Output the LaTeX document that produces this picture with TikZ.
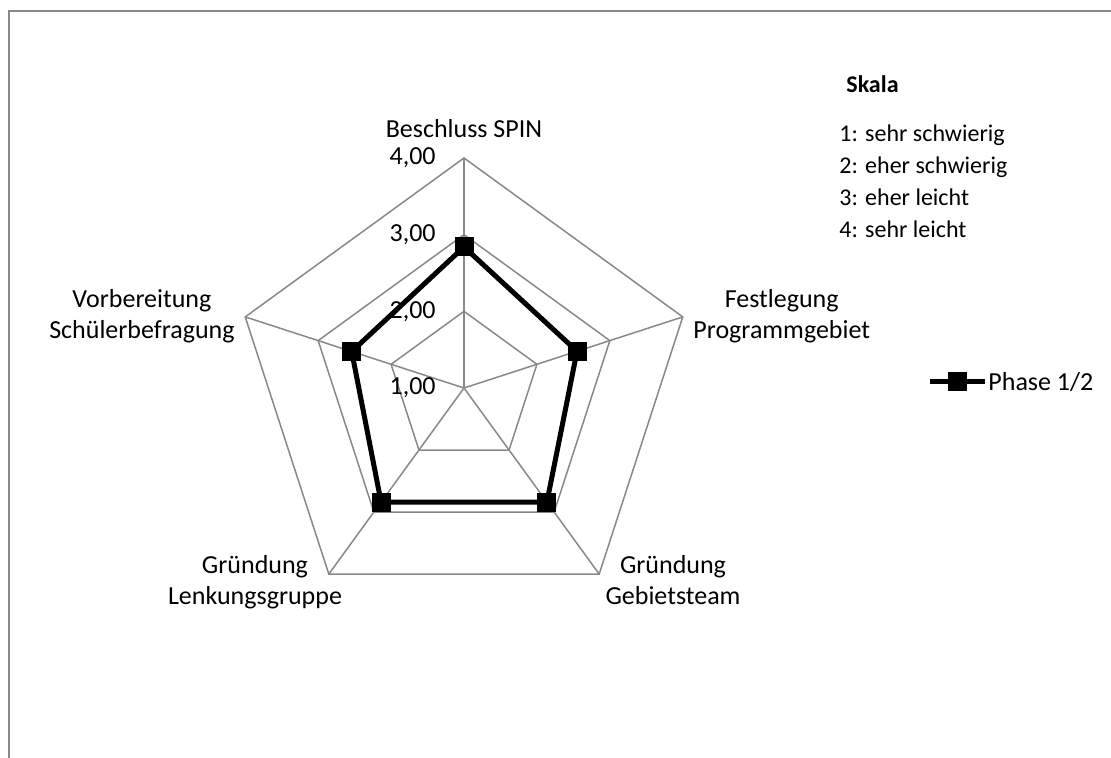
\documentclass[tikz,border=0pt]{standalone}
\usepackage{fontspec}
\setmainfont{Carlito}
\usetikzlibrary{positioning}

\definecolor{gridgray}{HTML}{888888}

\tikzset{
  gridline/.style={draw=gridgray, line width=0.75pt},
  dataline/.style={draw=black, line width=2.5pt, line join=miter},
  datamark/.style={rectangle, fill=black, inner sep=0pt, minimum size=9.5pt},
  axislabel/.style={inner sep=0pt, align=center},
  ticklabel/.style={inner sep=0pt, anchor=east},
  scaletext/.style={inner sep=0pt, anchor=base west, font=\fontsize{12}{14}\selectfont},
}

\begin{document}
\begin{tikzpicture}[x=0.5pt, y=0.5pt, font=\fontsize{13}{15.5}\selectfont]
    \useasboundingbox (-464,-370) rectangle (647,388);

    % Frame
    \draw[gridgray, line width=1.25pt] (-455,-370) -- (-455,377) -- (647,377);

    % Spokes of the radar grid
    \coordinate (o) at (0,0);
    \foreach \i in {0,...,4} {
        \coordinate (g\i) at ({90-72*\i}:230);
        \draw[gridline] (o) -- (g\i);
    }

    % Pentagons for 2,00 3,00 4,00
    \foreach \l in {2,3,4} {
        \pgfmathsetmacro\rad{(\l-1)*76.67}
        \draw[gridline] (90:\rad) -- (18:\rad) -- (-54:\rad) -- (-126:\rad) -- (162:\rad) -- cycle;
    }

    % Tick labels
    \foreach \v/\r in {1/0, 2/76.67, 3/153.33, 4/230}
        \node[ticklabel] (t\v) at (-28,\r) {\v,00};

    % Axis labels
    \node[axislabel, anchor=base] (a1) at (0,250) {Beschluss SPIN};
    \node[axislabel, anchor=west] (a2) at (229,72) {Festlegung\\Programmgebiet};
    \node[axislabel, anchor=north] (a3) at (209,-167) {Gründung\\Gebietsteam};
    \node[axislabel, anchor=north] (a4) at (-209,-167) {Gründung\\Lenkungsgruppe};
    \node[axislabel, anchor=east] (a5) at (-229,72) {Vorbereitung\\Schülerbefragung};

    % Data: Phase 1/2
    \foreach \a/\v [count=\i] in {90/2.84, 18/2.55, -54/2.84, -126/2.84, 162/2.54}
        \node[datamark] (p\i) at (\a:{(\v-1)*76.67}) {};
    \draw[dataline] (p1.center) -- (p2.center) -- (p3.center) -- (p4.center) -- (p5.center) -- cycle;

    % Legend
    \coordinate (ll) at (466,6);
    \coordinate (lr) at (521,6);
    \draw[dataline] (ll) -- (lr);
    \node[datamark] (lm) at (493,6) {};
    \node[inner sep=0pt, anchor=west] (lt) at (524,6) {Phase 1/2};

    % Scale
    \node[scaletext, font={\fontsize{12}{14}\selectfont\bfseries}] (sk) at (382,295) {Skala};
    \foreach \t [count=\i] in {1: sehr schwierig, 2: eher schwierig, 3: eher leicht, 4: sehr leicht}
        \node[scaletext] (s\i) at (375,{246.3-32.1*(\i-1)}) {\t};

\end{tikzpicture}
\end{document}
